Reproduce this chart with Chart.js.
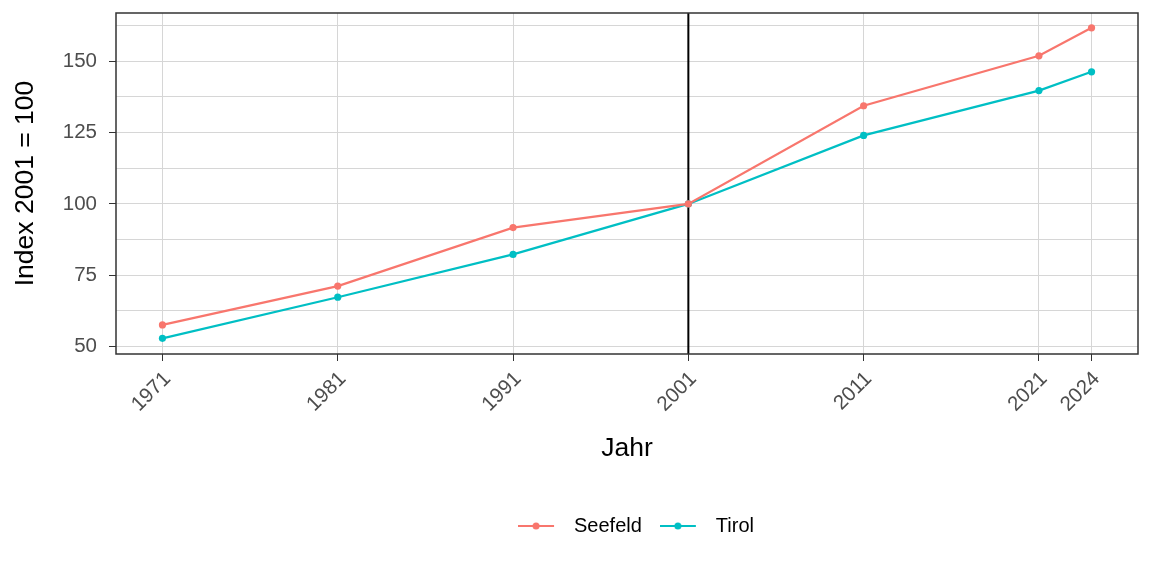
<!DOCTYPE html>
<html>
<head>
<meta charset="utf-8">
<script src="https://cdn.jsdelivr.net/npm/chart.js@4/dist/chart.umd.min.js"></script>
<style>
  html, body { margin: 0; padding: 0; background: #ffffff; }
  #wrap { width: 1152px; height: 576px; }
</style>
</head>
<body>
<div id="wrap"><canvas id="grafico" width="1152" height="576"></canvas></div>
<script>
// datos
let jahre = [1971, 1981, 1991, 2001, 2011, 2021, 2024]
let seefeld = [57.6, 71.2, 91.7, 100, 134.4, 151.9, 161.7]
let tirol = [52.9, 67.3, 82.3, 100, 124.0, 139.7, 146.3]
let y_ticks = [50, 62.5, 75, 87.5, 100, 112.5, 125, 137.5, 150, 162.5]
let y_labels = [50, 75, 100, 125, 150]
let referenz_jahr = 2001

let colores = ['#F8766D', '#00BFC4']
let fuente = "'Liberation Sans', Arial, sans-serif"

function puntos(valores){
    return jahre.map((j, i) => ({x: j, y: valores[i]}))
}

// icono de la leyenda: linea con punto
function icono_leyenda(color){
    let c = document.createElement('canvas')
    c.width = 46
    c.height = 12
    let ctx = c.getContext('2d')
    ctx.strokeStyle = color
    ctx.lineWidth = 2
    ctx.beginPath()
    ctx.moveTo(0, 6)
    ctx.lineTo(36, 6)
    ctx.stroke()
    ctx.fillStyle = color
    ctx.beginPath()
    ctx.arc(18, 6, 3.5, 0, Math.PI * 2)
    ctx.fill()
    return c
}

let marco = {
    id: 'marco',
    afterLayout(chart){
        // la leyenda va centrada un poco a la derecha, como en el original
        if (chart.legend) {
            chart.legend.left += 134
        }
    },
    beforeDatasetsDraw(chart){
        let ctx = chart.ctx
        let x = chart.scales.x.getPixelForValue(referenz_jahr)
        let a = chart.chartArea
        ctx.save()
        ctx.strokeStyle = '#000000'
        ctx.lineWidth = 2
        ctx.beginPath()
        ctx.moveTo(x, a.top)
        ctx.lineTo(x, a.bottom)
        ctx.stroke()
        ctx.restore()
    },
    afterDraw(chart){
        let ctx = chart.ctx
        let a = chart.chartArea
        ctx.save()
        ctx.strokeStyle = '#333333'
        ctx.lineWidth = 1.5
        ctx.strokeRect(a.left, a.top, a.right - a.left, a.bottom - a.top)
        ctx.restore()
    }
}

let serie = (nombre, valores, color) => ({
    label: nombre,
    data: puntos(valores),
    borderColor: color,
    backgroundColor: color,
    borderWidth: 2.2,
    pointRadius: 3.6,
    pointHoverRadius: 3.6,
    pointBorderWidth: 0,
    tension: 0
})

let configuracion = {
    type: 'line',
    data: {
        datasets: [
            serie('Seefeld', seefeld, colores[0]),
            serie('Tirol', tirol, colores[1])
        ]
    },
    options: {
        responsive: false,
        animation: false,
        layout: { padding: { top: 13, right: 14, left: 0, bottom: 30 } },
        plugins: {
            tooltip: { enabled: false },
            legend: {
                position: 'bottom',
                labels: {
                    usePointStyle: true,
                    pointStyleWidth: 46,
                    padding: 18,
                    color: '#000000',
                    font: { family: fuente, size: 20 },
                    generateLabels(chart){
                        let items = Chart.defaults.plugins.legend.labels.generateLabels(chart)
                        items.forEach((it, i) => { it.pointStyle = icono_leyenda(colores[i]) })
                        return items
                    }
                }
            }
        },
        scales: {
            x: {
                type: 'linear',
                min: 1968.35,
                max: 2026.65,
                afterBuildTicks(scale){
                    scale.ticks = jahre.map(v => ({value: v}))
                },
                afterFit(scale){
                    scale.height = 144
                    scale.paddingLeft = 0
                    scale.paddingRight = 0
                },
                border: { display: false },
                grid: {
                    color: '#d6d6d6',
                    lineWidth: 1,
                    tickLength: 7,
                    tickColor: '#333333'
                },
                ticks: {
                    minRotation: 45,
                    maxRotation: 45,
                    padding: 6,
                    labelOffset: 5,
                    color: '#4d4d4d',
                    font: { family: fuente, size: 20.5 },
                    callback: v => String(v)
                },
                title: {
                    display: true,
                    text: 'Jahr',
                    color: '#000000',
                    font: { family: fuente, size: 26.5 },
                    padding: { top: 0, bottom: 33 }
                }
            },
            y: {
                min: 47.4,
                max: 166.9,
                afterBuildTicks(scale){
                    scale.ticks = y_ticks.map(v => ({value: v}))
                },
                afterFit(scale){
                    scale.width = 116
                    scale.paddingTop = 0
                    scale.paddingBottom = 0
                },
                border: { display: false },
                grid: {
                    color: '#d6d6d6',
                    lineWidth: 1,
                    tickLength: 7,
                    tickColor: c => y_labels.includes(c.tick.value) ? '#333333' : 'rgba(0,0,0,0)'
                },
                ticks: {
                    padding: 12,
                    color: '#4d4d4d',
                    font: { family: fuente, size: 20.5 },
                    callback: v => y_labels.includes(v) ? String(v) : ''
                },
                title: {
                    display: true,
                    text: 'Index 2001 = 100',
                    color: '#000000',
                    font: { family: fuente, size: 26.5 },
                    padding: { top: 10, bottom: 0 }
                }
            }
        }
    },
    plugins: [marco]
}

var ctx = document.getElementById('grafico').getContext('2d')
var grafico = new Chart(ctx, configuracion)
</script>
</body>
</html>
